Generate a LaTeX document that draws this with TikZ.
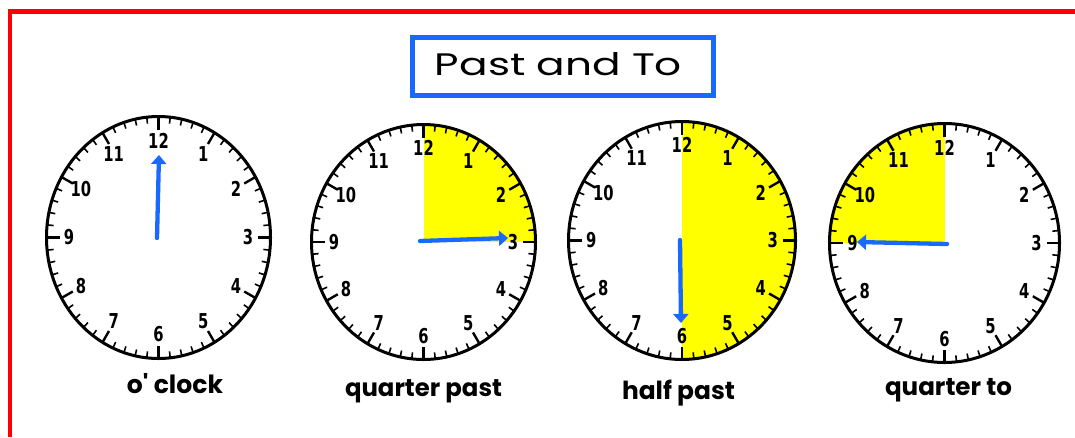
\documentclass[tikz,border=0pt]{standalone}
\usepackage{fontspec}
\setmainfont{Liberation Sans}
\newfontfamily\popfont{Poppins}
\newfontfamily\numfont{DejaVu Sans}
\usetikzlibrary{arrows.meta}
\definecolor{handblue}{RGB}{25,105,255}
\definecolor{clockyellow}{RGB}{255,255,0}
\definecolor{framered}{RGB}{255,0,0}
\newcommand\clocknumtext[1]{\scalebox{0.72}[1]{\fontsize{20.5pt}{20.5pt}\selectfont\numfont\bfseries #1}}
\tikzset{
  clockrim/.style={draw=black, line width=3pt},
  clocknum/.style={inner sep=0pt},
  hand/.style={draw=handblue, line width=4.3pt, line cap=round, -{Triangle[width=15pt,length=9pt]}},
  titlebox/.style={draw=handblue, line width=5pt, minimum width=301pt, minimum height=58pt, inner sep=0pt},
  labeltext/.style={anchor=base, inner sep=0pt},
  redframe/.style={draw=framered, line width=4.5pt, line join=miter}
}
\newcommand\clockface[5]{% cx cy rx ry prefix
  \draw[clockrim] (#1,#2) ellipse [x radius=#3pt, y radius=#4pt];
  \foreach \m in {0,...,59}{
    \pgfmathsetmacro\len{ifthenelse(mod(\m,5)==0,13,6.5)}
    \pgfmathsetmacro\lw{ifthenelse(mod(\m,5)==0,2.4,1.6)}
    \draw[line width=\lw pt] ({#1+(#3+1)*sin(6*\m)},{#2-(#4+1)*cos(6*\m)}) -- ({#1+(#3-\len)*sin(6*\m)},{#2-(#4-\len)*cos(6*\m)});
  }
  \foreach \h in {1,...,12}{
    \node[clocknum] (#5n\h) at ({#1+0.8*#3*sin(30*\h)},{#2-0.8*#4*cos(30*\h)}) {\clocknumtext{\h}};
  }
}
\begin{document}
\begin{tikzpicture}[x=1pt,y=-1pt]
\useasboundingbox (0,0) rectangle (1075,437);
\fill[white] (0,0) rectangle (1075,437);
\draw[redframe] (9.8,437) -- (9.8,11.3) -- (1075,11.3);

% title
\node[titlebox] (titlebox) at (562.5,66.5) {};
\node[labeltext] (title) at (558.5,75) {\resizebox{247pt}{23pt}{\popfont Past and To}};

% yellow sectors
\begin{scope}
  \clip (423.5,242) ellipse [x radius=112pt, y radius=117.5pt];
  \fill[clockyellow] (423.5,242) rectangle (540,118);
\end{scope}
\begin{scope}
  \clip (682,240.5) ellipse [x radius=113.5pt, y radius=119pt];
  \fill[clockyellow] (682,115) rectangle (800,365);
\end{scope}
\begin{scope}
  \clip (944.5,243) ellipse [x radius=115pt, y radius=119.5pt];
  \fill[clockyellow] (825,118) rectangle (944.5,243);
\end{scope}

% clocks
\clockface{158.5}{237.5}{112}{121}{a}
\clockface{423.5}{242}{112}{117.5}{b}
\clockface{682}{240.5}{113.5}{119}{c}
\clockface{944.5}{243}{115}{119.5}{d}

% hands
\coordinate (a0) at (157,238); \coordinate (a1) at (159,155);
\coordinate (b0) at (420,241); \coordinate (b1) at (508,238);
\coordinate (c0) at (680,240); \coordinate (c1) at (681,323);
\coordinate (d0) at (947,244); \coordinate (d1) at (857,242);
\draw[hand] (a0) -- (a1);
\draw[hand] (b0) -- (b1);
\draw[hand] (c0) -- (c1);
\draw[hand] (d0) -- (d1);

% labels
\node[labeltext] (la) at (175,393) {\resizebox{96pt}{!}{\popfont\bfseries o\textquotesingle{} clock}};
\node[labeltext] (lb) at (423.5,396) {\resizebox{157pt}{!}{\popfont\bfseries quarter past}};
\node[labeltext] (lc) at (678.5,399) {\resizebox{113pt}{!}{\popfont\bfseries half past}};
\node[labeltext] (ld) at (948.5,395) {\resizebox{127pt}{!}{\popfont\bfseries quarter to}};
\end{tikzpicture}
\end{document}
